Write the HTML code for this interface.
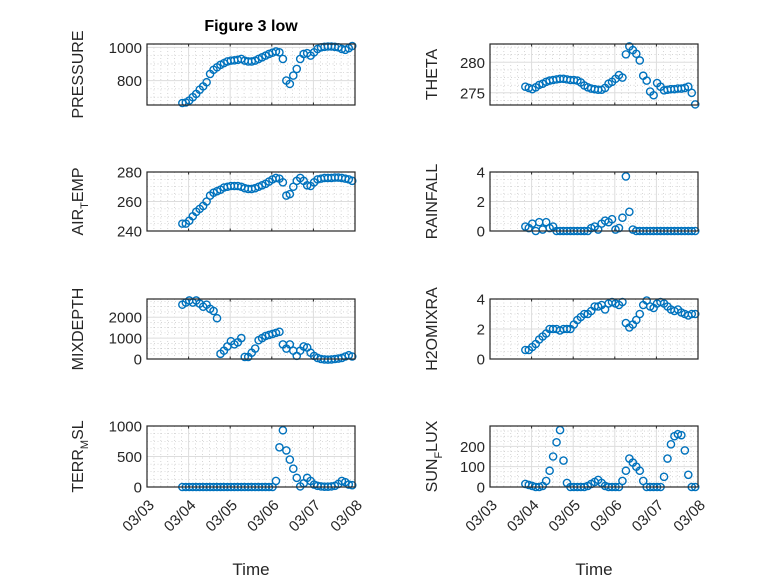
<!DOCTYPE html>
<html><head><meta charset="utf-8"><style>
html,body{margin:0;padding:0;background:#fff}
svg{display:block;font-family:"Liberation Sans","DejaVu Sans",sans-serif}
</style></head><body>
<svg id="fig" width="778" height="583" viewBox="0 0 778 583">
<rect width="778" height="583" fill="#fff"/>
<text x="251" y="31" text-anchor="middle" font-size="16" font-weight="bold" fill="#000">Figure 3 low</text>
</svg>
<script>
const xTickLabels = ["03/03","03/04","03/05","03/06","03/07","03/08"];
const tStart = 0.85, tStep = 1/12;
const pressure = [665,668,680,700,720,745,765,790,840,865,880,895,905,915,920,922,925,930,920,915,915,920,930,940,950,960,968,975,970,930,800,780,830,870,930,960,965,950,970,990,1000,1003,1005,1005,1003,1000,990,985,995,1008];
const theta = [276,275.8,275.6,275.9,276.3,276.5,276.8,277,277.1,277.2,277.3,277.3,277.2,277.1,277.1,277,276.7,276.2,275.9,275.7,275.6,275.5,275.5,275.8,276.5,276.8,277.3,277.9,277.5,281.3,282.6,282,281.4,280.3,277.8,277,275.2,274.6,276.6,276,275.4,275.5,275.6,275.6,275.7,275.7,275.8,276,275,273.1];
const airTemp = [245,245,247,250,253,255,257,260,264,266,267,268,269.5,270,270.5,270.5,270.5,270,269,268.5,268.5,269,270,271,272,273.5,275,276,275.5,273,264,265,270,274,276,274,271,270.5,273,275,275.5,276,276,276,276.2,276.2,276,275.5,275,274];
const rainfall = [0.3,0.2,0.5,0,0.6,0.1,0.6,0.2,0.3,0,0,0,0,0,0,0,0,0,0,0.2,0.3,0.1,0.5,0.7,0.6,0.8,0.1,0.2,0.9,3.7,1.3,0.1,0,0,0,0,0,0,0,0,0,0,0,0,0,0,0,0,0,0];
const mixDepth = [2600,2700,2800,2700,2800,2650,2500,2600,2400,2300,1950,250,400,600,850,700,800,1000,100,100,300,500,900,1000,1100,1150,1200,1250,1300,700,500,700,400,150,400,600,550,300,150,50,0,-20,-30,-20,0,20,50,120,180,120];
const h2o = [0.6,0.6,0.8,1.0,1.3,1.5,1.7,2.0,2.0,2.0,1.9,2.0,2.0,2.0,2.3,2.6,2.8,3.0,3.0,3.2,3.5,3.5,3.6,3.3,3.7,3.8,3.7,3.6,3.8,2.4,2.1,2.3,2.6,3.0,3.6,3.9,3.5,3.4,3.7,3.8,3.7,3.5,3.3,3.2,3.3,3.1,3.0,2.9,3.0,3.0];
const terrMsl = [0,0,0,0,0,0,0,0,0,0,0,0,0,0,0,0,0,0,0,0,0,0,0,0,0,0,0,100,650,930,600,450,300,150,10,60,150,100,40,20,10,5,5,10,20,50,100,80,40,30];
const sunFlux = [15,10,5,0,0,5,30,80,150,220,280,130,20,0,0,0,0,0,5,15,25,35,20,5,0,0,0,0,30,80,140,120,100,80,30,0,0,0,0,0,50,140,210,250,260,255,180,60,0,0];

const NS="http://www.w3.org/2000/svg";
const svg=document.getElementById('fig');
function mk(tag,attrs,parent){const e=document.createElementNS(NS,tag);for(const k in attrs)e.setAttribute(k,attrs[k]);(parent||svg).appendChild(e);return e;}

const cols=[147,490], W=208;
const rows=[[44,105],[172,231],[299,359],[426,487]];
const panels=[
 {name:'pressure',data:pressure,ylim:[653,1020],ticks:[800,1000],label:['PRESSURE'],c:0,r:0},
 {name:'theta',data:theta,ylim:[273,283],ticks:[275,280],label:['THETA'],c:1,r:0},
 {name:'air-temp',data:airTemp,ylim:[240,280],ticks:[240,260,280],label:['AIR','T','EMP'],c:0,r:1},
 {name:'rainfall',data:rainfall,ylim:[0,4],ticks:[0,2,4],label:['RAINFALL'],c:1,r:1},
 {name:'mixdepth',data:mixDepth,ylim:[0,2870],ticks:[0,1000,2000],label:['MIXDEPTH'],c:0,r:2},
 {name:'h2omixra',data:h2o,ylim:[0,4],ticks:[0,2,4],label:['H2OMIXRA'],c:1,r:2},
 {name:'terr-msl',data:terrMsl,ylim:[0,1000],ticks:[0,500,1000],label:['TERR','M','SL'],c:0,r:3},
 {name:'sun-flux',data:sunFlux,ylim:[0,300],ticks:[0,100,200],label:['SUN','F','LUX'],c:1,r:3}
];

panels.forEach(p=>{
  const x0=cols[p.c], x1=x0+W, y0=rows[p.r][0], y1=rows[p.r][1];
  const xs=t=>x0+t/5*W;
  const ys=v=>y1-(v-p.ylim[0])/(p.ylim[1]-p.ylim[0])*(y1-y0);
  const g=mk('g',{});
  
  
  for(let d=0;d<5;d++)for(let k=1;k<6;k++){const x=xs(d+k/6);
    mk('line',{x1:x,x2:x,y1:y0,y2:y1,stroke:'#bbb','stroke-width':0.6,'stroke-dasharray':'1 2.5'},g);}
  const tstep=p.ticks[1]-p.ticks[0];
  for(let v=p.ticks[0]-tstep;v<=p.ylim[1];v+=tstep/4){
    if(v<p.ylim[0]||p.ticks.some(t=>Math.abs(t-v)<1e-9))continue;const y=ys(v);
    mk('line',{x1:x0,x2:x1,y1:y,y2:y,stroke:'#bbb','stroke-width':0.6,'stroke-dasharray':'1 2.5'},g);}
  for(let d=1;d<5;d++){const x=xs(d);mk('line',{x1:x,x2:x,y1:y0,y2:y1,stroke:'#ddd','stroke-width':1},g);}
  p.ticks.forEach(v=>{const y=ys(v);mk('line',{x1:x0,x2:x1,y1:y,y2:y,stroke:'#ddd','stroke-width':1},g);
    const tl=mk('text',{x:x0-5,y:y+5.5,'text-anchor':'end','font-size':15,fill:'#262626'},g);tl.textContent=v;
    
    });
  for(let d=1;d<5;d++){const x=xs(d);mk('line',{x1:x,x2:x,y1:y1,y2:y1-2.5,stroke:'#262626'},g);mk('line',{x1:x,x2:x,y1:y0,y2:y0+2.5,stroke:'#262626'},g);}
  p.data.forEach((v,i)=>{const c=mk('circle',{cx:xs(tStart+i*tStep),cy:ys(v),r:3.6,fill:'none',stroke:'#0072BD','stroke-width':1.4},g);
    
    });
  mk('rect',{x:x0,y:y0,width:W,height:y1-y0,fill:'none',stroke:'#262626','stroke-width':1.2},g);
  const ly=(y0+y1)/2, lx=x0-(p.c===0?64:53);
  const lab=mk('text',{x:0,y:0,'text-anchor':'middle','font-size':16,fill:'#262626',transform:`translate(${lx},${ly}) rotate(-90)`},g);
  
  
  if(p.label.length===1)lab.textContent=p.label[0];
  else{const a=mk('tspan',{},lab);a.textContent=p.label[0];
    const b=mk('tspan',{dy:5,'font-size':11},lab);b.textContent=p.label[1];
    const c=mk('tspan',{dy:-5},lab);c.textContent=p.label[2];}
  if(p.r===3){
    xTickLabels.forEach((s,i)=>{const x=xs(i);
      const t=mk('text',{x:0,y:0,'text-anchor':'end','font-size':15,fill:'#262626',transform:`translate(${x+8},${y1+19}) rotate(-45)`},g);
      t.textContent=s;
      
      });
    const tt=mk('text',{x:x0+W/2,y:575,'text-anchor':'middle','font-size':17,fill:'#262626'},g);
    tt.textContent='Time';
    
    
  }
});
</script>
</body></html>
